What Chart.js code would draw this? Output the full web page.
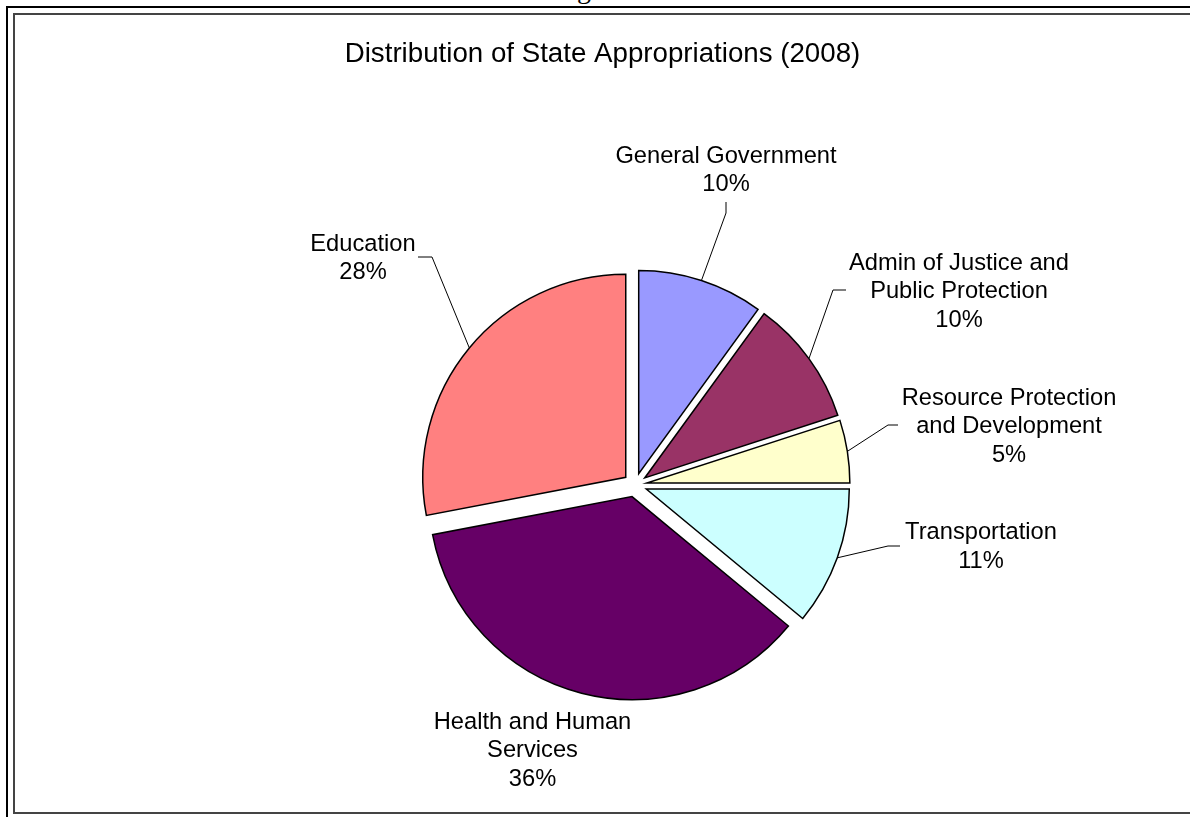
<!DOCTYPE html>
<html>
<head>
<meta charset="utf-8">
<title>Distribution of State Appropriations (2008)</title>
<script src="https://cdn.jsdelivr.net/npm/chart.js@4.4.1/dist/chart.umd.min.js"></script>
<style>
  html, body { margin: 0; padding: 0; background: #fff; overflow: hidden; }
  body { width: 1190px; height: 817px; position: relative; }
  .frame-outer { position: absolute; left: 6px; top: 6px; width: 1300px; height: 900px; border: 2px solid #000; }
  .frame-inner { position: absolute; left: 13px; top: 13px; width: 1300px; height: 801px; box-sizing: border-box; border: 2px solid #444; }
  .cut { position: absolute; left: 577px; top: -25px; font: 28px/28px "Liberation Serif", serif; color: #000; }
  #wrap { position: absolute; left: 15px; top: 15px; width: 1175px; height: 880px; }
</style>
</head>
<body>
<div class="cut">g</div>
<div class="frame-outer"></div>
<div class="frame-inner"></div>
<div id="wrap"><canvas id="myChart"></canvas></div>

<script>
// slice names, already split into the lines they are printed on
const categories = [
    ['General Government'],
    ['Admin of Justice and', 'Public Protection'],
    ['Resource Protection', 'and Development'],
    ['Transportation'],
    ['Health and Human', 'Services'],
    ['Education']
];
// share of appropriations, percent
const shares = [10, 10, 5, 11, 36, 28];
const sliceColors = ['#9999FF', '#993366', '#FFFFCC', '#CCFFFF', '#660066', '#FF8080'];
const chartTitle = 'Distribution of State Appropriations (2008)';

const PIE_RADIUS = 203;
const EXPLODE = 12;
const TITLE_FONT = '27.7px "Liberation Sans", Arial, sans-serif';
const LABEL_FONT = '23.7px "Liberation Sans", Arial, sans-serif';
const LINE_H = 28.5;

// where each callout sits, relative to the pie centre: text block centre,
// leader elbow and leader end (no leader when elbow is null)
const labelSpots = [
    { at: [91, -314.5],   elbow: [91, -272],   end: [91, -283] },
    { at: [324, -193.5],  elbow: [198, -195],  end: [211, -195] },
    { at: [374, -58.5],   elbow: [253, -60],   end: [263, -60] },
    { at: [346, 62],      elbow: [253, 61],    end: [265, 61] },
    { at: [-102.5, 265.5], elbow: null,        end: null },
    { at: [-272, -226.5], elbow: [-203, -228], end: [-217, -228] }
];

// push every slice out along its bisector by the same distance
const explode = {
    id: 'explode',
    afterDatasetUpdate(chart, args) {
        args.meta.data.forEach(arc => {
            const mid = (arc.startAngle + arc.endAngle) / 2;
            arc.x += Math.cos(mid) * EXPLODE;
            arc.y += Math.sin(mid) * EXPLODE;
        });
    }
};

// title is centred on the whole canvas, the pie sits right of centre
const heading = {
    id: 'heading',
    afterDraw(chart) {
        const ctx = chart.ctx;
        ctx.save();
        ctx.font = TITLE_FONT;
        ctx.fillStyle = '#000';
        ctx.textAlign = 'center';
        ctx.textBaseline = 'middle';
        ctx.fillText(chartTitle, chart.width / 2, 39);
        ctx.restore();
    }
};

const callouts = {
    id: 'callouts',
    afterDatasetsDraw(chart) {
        const ctx = chart.ctx;
        const area = chart.chartArea;
        const cx = (area.left + area.right) / 2;
        const cy = (area.top + area.bottom) / 2;
        const total = shares.reduce((a, b) => a + b, 0);
        const arcs = chart.getDatasetMeta(0).data;

        ctx.save();
        ctx.font = LABEL_FONT;
        ctx.fillStyle = '#000';
        ctx.strokeStyle = '#000';
        ctx.lineWidth = 1;
        ctx.textAlign = 'center';
        ctx.textBaseline = 'middle';

        arcs.forEach((arc, i) => {
            const spot = labelSpots[i];
            const lines = categories[i].concat(Math.round(shares[i] / total * 100) + '%');
            const top = cy + spot.at[1] - (lines.length - 1) * LINE_H / 2;
            lines.forEach((t, k) => ctx.fillText(t, cx + spot.at[0], top + k * LINE_H));

            if (spot.elbow) {
                const mid = (arc.startAngle + arc.endAngle) / 2;
                const r = arc.outerRadius;
                ctx.beginPath();
                ctx.moveTo(arc.x + Math.cos(mid) * r, arc.y + Math.sin(mid) * r);
                ctx.lineTo(cx + spot.elbow[0], cy + spot.elbow[1]);
                ctx.lineTo(cx + spot.end[0], cy + spot.end[1]);
                ctx.stroke();
            }
        });
        ctx.restore();
    }
};

document.addEventListener('DOMContentLoaded', function () {
    const canvas = document.getElementById('myChart');
    if (!canvas.getContext) {
        console.error('unsupported getContext');
        return;
    }
    const ctx = canvas.getContext('2d');

    new Chart(ctx, {
        type: 'pie',
        data: {
            labels: categories.map(l => l.join(' ')),
            datasets: [{
                data: shares,
                backgroundColor: sliceColors,
                borderColor: '#000',
                borderWidth: 1.5,
                borderJoinStyle: 'miter',
                radius: PIE_RADIUS
            }]
        },
        options: {
            responsive: true,
            maintainAspectRatio: false,
            animation: false,
            events: [],
            // top padding keeps room for the heading drawn by the plugin
            layout: { padding: { left: 65, right: 0, top: 65, bottom: 5 } },
            plugins: {
                legend: { display: false },
                tooltip: { enabled: false },
                title: { display: false }
            }
        },
        plugins: [explode, heading, callouts]
    });
}, false);
</script>
</body>
</html>
